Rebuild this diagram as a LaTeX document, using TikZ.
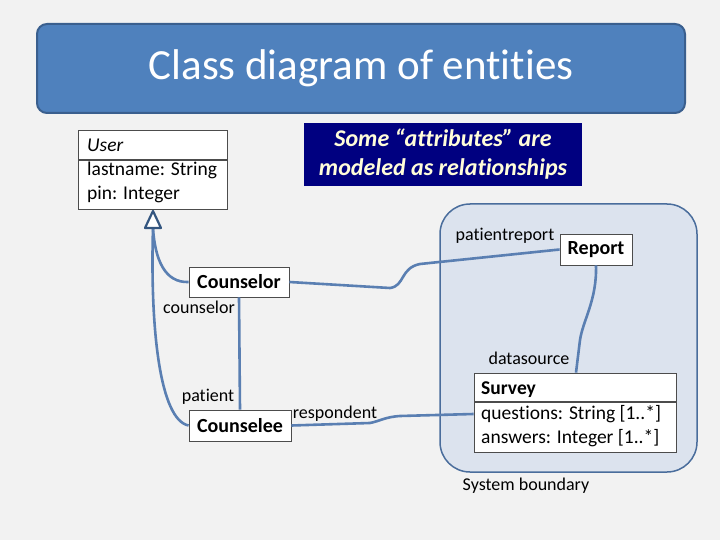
\documentclass[tikz,border=0pt]{standalone}
\usepackage{fontspec}
\setmainfont[Ligatures={NoCommon,NoRare,NoDiscretionary}]{Carlito}
\begin{document}
\begin{tikzpicture}[x=1pt,y=-1pt,
  conn/.style={draw=lineblue,line width=2.6pt},
  cls/.style={draw=black!70,fill=white,line width=0.8pt,inner sep=0pt},
  lbl/.style={font=\fontsize{18}{20}\selectfont,inner sep=0pt}]
\definecolor{lineblue}{HTML}{5A7FB2}
\definecolor{titleblue}{HTML}{4F81BD}
\definecolor{titleborder}{HTML}{3A5F8E}
\definecolor{bnd}{HTML}{DCE3EE}
\definecolor{bndborder}{HTML}{4A6D9C}
\definecolor{navy}{HTML}{000080}
\useasboundingbox (0,0) rectangle (720,540);
\fill[black!5] (0,0) rectangle (720,540);
% title
\node[draw=titleborder,line width=2pt,fill=titleblue,rounded corners=10pt,minimum width=648pt,minimum height=89pt,text=white,font=\fontsize{43}{48}\selectfont] (title) at (361,68.5) {Class diagram of entities};
% note
\node[fill=navy,minimum width=278pt,minimum height=63pt,align=center,text=yellow!15,font=\fontsize{24}{29}\bfseries\itshape\selectfont] (note) at (443,154.5) {Some “attributes” are\\modeled as relationships};
% system boundary
\node[draw=bndborder,line width=1.5pt,fill=bnd,rounded corners=30pt,minimum width=257pt,minimum height=268pt] (sys) at (568.5,338) {};
\node[font=\fontsize{18}{20}\selectfont,anchor=north] (syslbl) at (526,474) {System boundary};
% User
\node[cls,minimum width=149pt,minimum height=79pt] (user) at (152.5,169.5) {};
\draw[black!70,line width=1.2pt] (78,160) -- (227,160);
\node[anchor=west,font=\fontsize{19.5}{21}\itshape\selectfont,inner sep=0pt] (usern) at (87,145) {User};
\node[anchor=west,font=\fontsize{19.5}{21}\selectfont,inner sep=0pt] (ua1) at (87,170) {lastname: String};
\node[anchor=west,font=\fontsize{19.5}{21}\selectfont,inner sep=0pt] (ua2) at (87,194) {pin: Integer};
% classes
\node[cls,minimum width=100pt,minimum height=30pt,font=\fontsize{20}{22}\bfseries\selectfont] (counselor) at (239,282) {Counselor};
\node[cls,minimum width=102pt,minimum height=31pt,font=\fontsize{20}{22}\bfseries\selectfont] (counselee) at (240,425.5) {Counselee};
\node[cls,minimum width=72pt,minimum height=31pt,font=\fontsize{20}{22}\bfseries\selectfont] (report) at (596,249.5) {Report};
\node[cls,minimum width=202pt,minimum height=79pt] (survey) at (575,412.5) {};
\draw[black!70,line width=1.2pt] (474,402) -- (676,402);
\node[anchor=west,font=\fontsize{19.5}{21}\bfseries\selectfont,inner sep=0pt] (sn) at (481,390) {Survey};
\node[anchor=west,font=\fontsize{19.5}{21}\selectfont,inner sep=0pt] (sa1) at (481,414) {questions: String [1..*]};
\node[anchor=west,font=\fontsize{19.5}{21}\selectfont,inner sep=0pt] (sa2) at (481,438) {answers: Integer [1..*]};
% generalization
\coordinate (tri) at (153,228);
\draw[conn] (counselor.west) .. controls (165,283) and (155,260) .. (tri);
\draw[conn] (counselee.west) .. controls (160,420) and (150,330) .. (tri);
\draw[line width=2.2pt,draw=titleborder!90!black,fill=white,line join=round] (153,211) -- (161,228) -- (145,228) -- cycle;
% associations
\draw[conn] (counselor.east) -- (390,288) .. controls (405,286) and (400,268) .. (420,264) -- (report.west);
\draw[conn] (counselor.south) -- (counselee.north);
\draw[conn] (report.south) .. controls (597,300) and (583,320) .. (580,340) -- (survey.north -| 576,0);
\draw[conn] (counselee.east) -- (370,423) .. controls (380,421) and (385,417) .. (400,416) -- (survey.west |- 0,414);
% labels
\node[lbl] (l1) at (505,236) {patientreport};
\node[lbl] (l2) at (199,307) {counselor};
\node[lbl] (l3) at (208,397) {patient};
\node[lbl] (l4) at (335,414) {respondent};
\node[lbl] (l5) at (529,358) {datasource};
\end{tikzpicture}
\end{document}
